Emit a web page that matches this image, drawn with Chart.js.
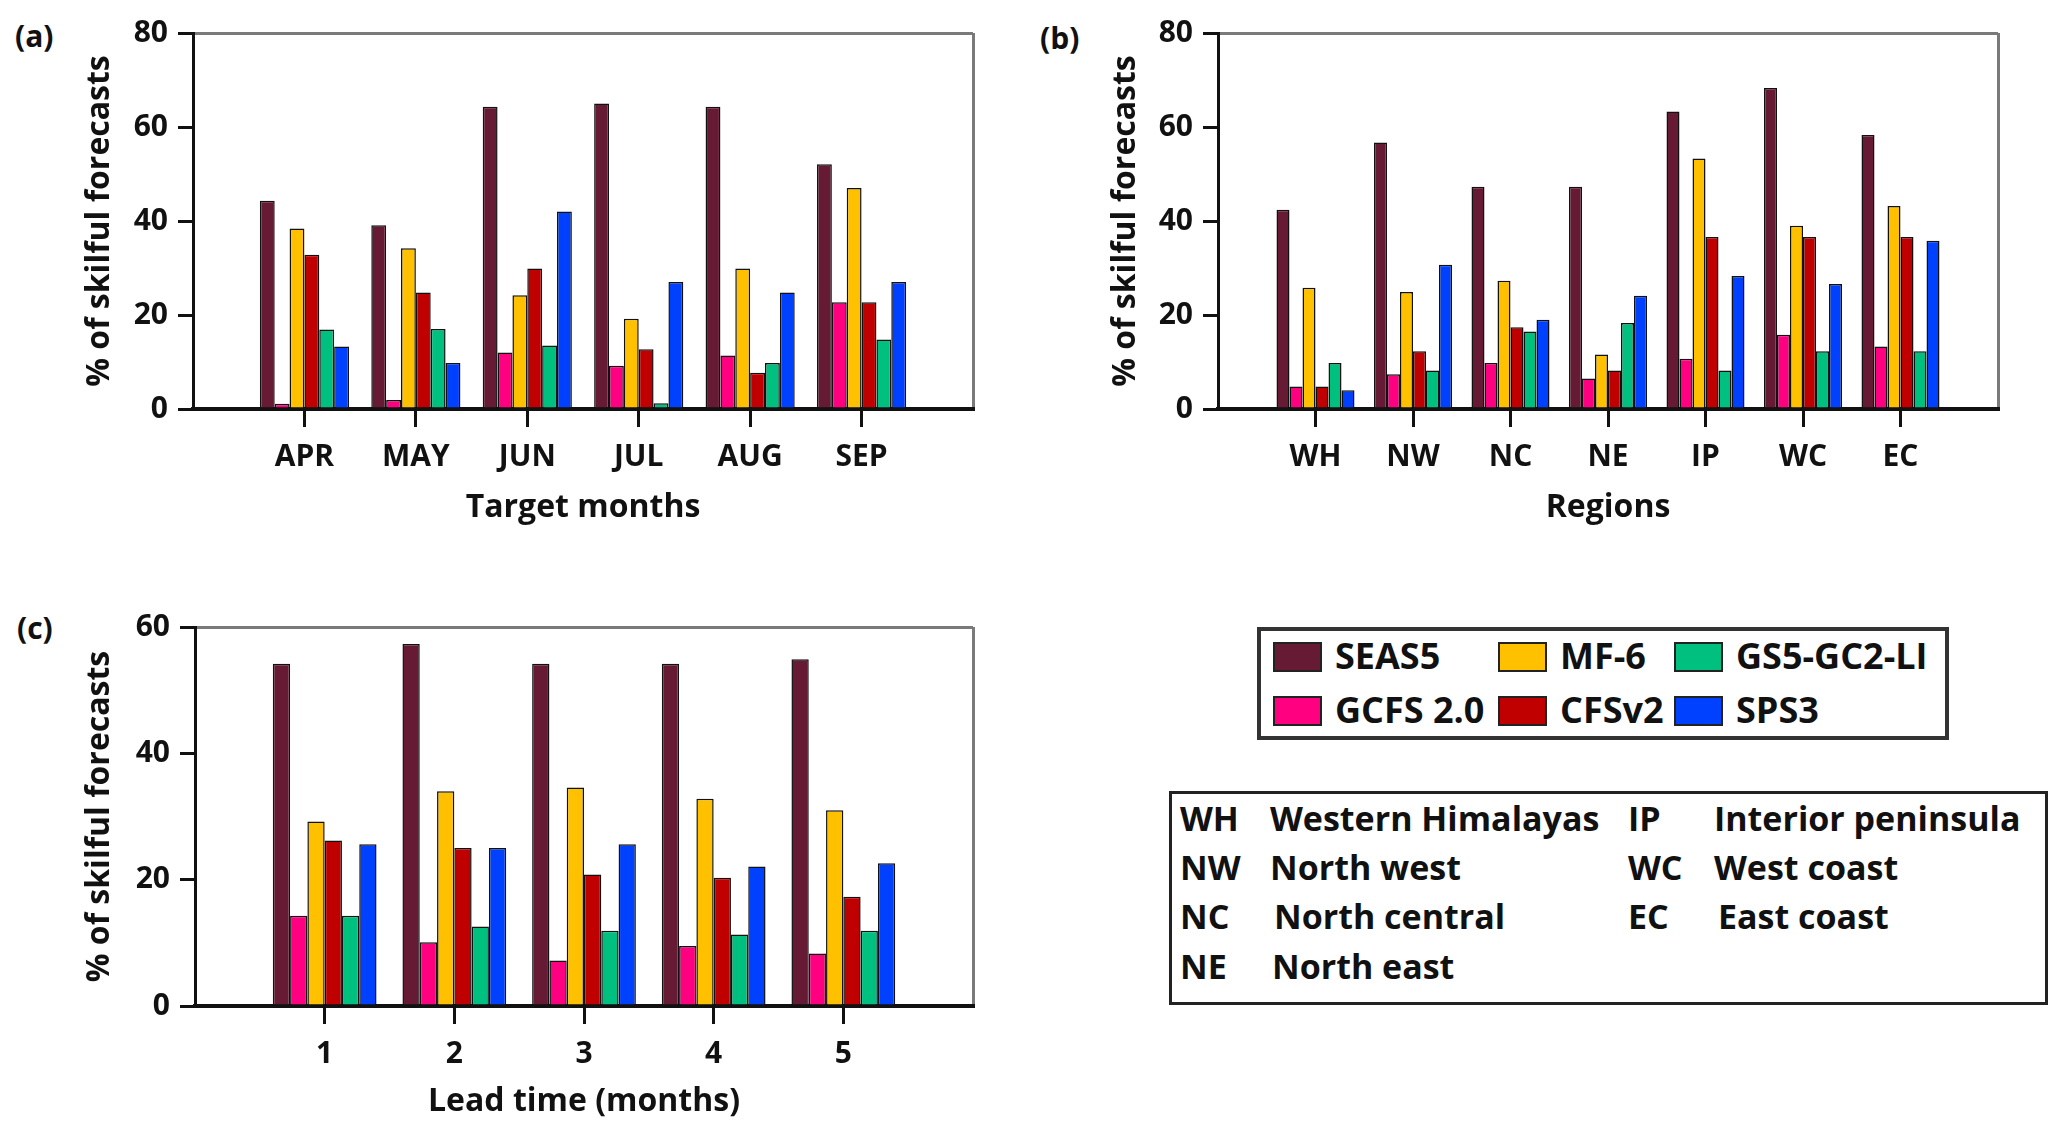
<!DOCTYPE html>
<html>
<head>
<meta charset="utf-8">
<script src="https://cdn.jsdelivr.net/npm/chart.js@4.4.1/dist/chart.umd.min.js"></script>
<style>
  body { margin: 0; background: #fff; width: 2067px; height: 1135px; overflow: hidden; position: relative; font-family: "Open Sans", sans-serif; color: #111; }
  canvas { position: absolute; }
  .panel { position: absolute; font-weight: 700; font-size: 30px; line-height: 40px; }
  .box { position: absolute; box-sizing: border-box; }
  .txt { position: absolute; font-weight: 700; white-space: nowrap; }
  .sw { position: absolute; box-sizing: border-box; border: 2px solid #222; }
</style>
</head>
<body>
<div class="panel" style="left:15px;top:16px">(a)</div>
<div class="panel" style="left:1040px;top:18px">(b)</div>
<div class="panel" style="left:17px;top:608px">(c)</div>

<canvas id="chartA" width="1033" height="560" style="left:0;top:0"></canvas>
<canvas id="chartB" width="1034" height="560" style="left:1033px;top:0"></canvas>
<canvas id="chartC" width="1033" height="575" style="left:0;top:560px"></canvas>

<div id="legend1" class="box" style="left:1257px;top:627px;width:692px;height:113px;border:4px solid #333"></div>
<div id="legend2" class="box" style="left:1169px;top:791px;width:879px;height:214px;border:3px solid #222"></div>

<script>
// models and colours
var models = ["SEAS5", "GCFS 2.0", "MF-6", "CFSv2", "GS5-GC2-LI", "SPS3"];
var colors = ["#661a33", "#ff0080", "#ffc000", "#c00000", "#00c080", "#0040ff"];

// (a) target months
var months = ["APR", "MAY", "JUN", "JUL", "AUG", "SEP"];
var monSEAS5 = [44.3, 39.1, 64.3, 65.0, 64.3, 52.1];
var monGCFS = [1.1, 1.9, 12.0, 9.2, 11.4, 22.7];
var monMF6 = [38.4, 34.2, 24.2, 19.2, 29.9, 47.0];
var monCFS = [32.8, 24.8, 29.9, 12.7, 7.7, 22.7];
var monGS5 = [16.9, 17.0, 13.5, 1.2, 9.8, 14.8];
var monSPS3 = [13.3, 9.8, 42.0, 27.0, 24.8, 27.0];

// (b) regions
var regions = ["WH", "NW", "NC", "NE", "IP", "WC", "EC"];
var regSEAS5 = [42.4, 56.7, 47.3, 47.3, 63.3, 68.3, 58.3];
var regGCFS = [4.8, 7.4, 9.8, 6.5, 10.7, 15.8, 13.3];
var regMF6 = [25.8, 24.9, 27.3, 11.6, 53.3, 39.0, 43.2];
var regCFS = [4.8, 12.3, 17.4, 8.2, 36.6, 36.6, 36.6];
var regGS5 = [9.8, 8.2, 16.5, 18.3, 8.2, 12.3, 12.3];
var regSPS3 = [4.0, 30.7, 19.0, 24.1, 28.3, 26.6, 35.8];

// (c) lead time
var leads = ["1", "2", "3", "4", "5"];
var leadSEAS5 = [54.2, 57.3, 54.2, 54.2, 54.9];
var leadGCFS = [14.3, 10.1, 7.2, 9.5, 8.3];
var leadMF6 = [29.2, 34.0, 34.6, 32.8, 31.0];
var leadCFS = [26.2, 25.0, 20.8, 20.3, 17.3];
var leadGS5 = [14.3, 12.6, 11.9, 11.3, 11.9];
var leadSPS3 = [25.6, 25.0, 25.6, 22.1, 22.6];

// region key
var regionCodes = ["WH", "NW", "NC", "NE", "IP", "WC", "EC"];
var regionNames = ["Western Himalayas", "North west", "North central", "North east",
  "Interior peninsula", "West coast", "East coast"];

var yTicks = { a: [0, 80], b: [0, 80], c: [0, 60] };
var yTitle = "% of skilful forecasts";

function pad(arr, fill) {
  return [fill].concat(arr).concat([fill]);
}

function makeChart(id, cats, series, cfg) {
  var n = cats.length + 2;
  var ds = [];
  for (var i = 0; i < series.length; i++) {
    ds.push({
      label: models[i],
      data: pad(series[i], null),
      backgroundColor: colors[i],
      borderColor: "#111",
      borderWidth: 1.5,
      categoryPercentage: 0.8,
      barPercentage: 1.0,
    });
  }
  return new Chart(document.getElementById(id), {
    type: "bar",
    data: { labels: pad(cats, ""), datasets: ds },
    options: {
      responsive: false,
      animation: false,
      layout: { padding: { top: cfg.top, right: cfg.right, left: 0, bottom: 0 } },
      plugins: { legend: { display: false }, tooltip: { enabled: false } },
      scales: {
        x: {
          type: "category",
          offset: false,
          grid: {
            offset: false,
            color: function (c) { return c.index === n - 1 ? "#7a7a7a" : "rgba(0,0,0,0)"; },
            lineWidth: 3,
            tickColor: function (c) { return (c.index === 0 || c.index === n - 1) ? "rgba(0,0,0,0)" : "#111"; },
            tickLength: 18,
            tickWidth: 3,
          },
          border: { color: "#111", width: 4 },
          ticks: {
            autoSkip: false,
            maxRotation: 0,
            padding: 12,
            color: "#111",
            font: { family: "Open Sans", weight: "bold", size: 30 },
          },
          title: {
            display: true,
            text: cfg.xTitle,
            color: "#111",
            font: { family: "Open Sans", weight: "bold", size: 32 },
            padding: { top: 0, bottom: cfg.xTitlePad },
          },
          afterFit: function (s) { s.height = cfg.xHeight; },
        },
        y: {
          min: cfg.yRange[0],
          max: cfg.yRange[1],
          ticks: {
            stepSize: 20,
            padding: 10,
            color: "#111",
            font: { family: "Open Sans", weight: "bold", size: 30 },
          },
          grid: {
            color: function (c) { return c.tick && c.tick.value === cfg.yRange[1] ? "#7a7a7a" : "rgba(0,0,0,0)"; },
            lineWidth: 3,
            tickColor: "#111",
            tickLength: 15,
            tickWidth: 3,
          },
          border: { color: "#111", width: 3 },
          title: {
            display: true,
            text: yTitle,
            color: "#111",
            font: { family: "Open Sans", weight: "bold", size: 32 },
            padding: { top: cfg.yTitlePad, bottom: 0 },
          },
          afterFit: function (s) { s.width = cfg.yWidth; },
        },
      },
    },
  });
}

makeChart("chartA", months, [monSEAS5, monGCFS, monMF6, monCFS, monGS5, monSPS3], {
  top: 33, right: 60, yWidth: 193, xHeight: 151, xTitle: "Target months",
  xTitlePad: 33, yTitlePad: 81, yRange: yTicks.a,
});
makeChart("chartB", regions, [regSEAS5, regGCFS, regMF6, regCFS, regGS5, regSPS3], {
  top: 33, right: 69, yWidth: 185, xHeight: 151, xTitle: "Regions",
  xTitlePad: 33, yTitlePad: 74, yRange: yTicks.b,
});
makeChart("chartC", leads, [leadSEAS5, leadGCFS, leadMF6, leadCFS, leadGS5, leadSPS3], {
  top: 67, right: 60, yWidth: 195, xHeight: 129, xTitle: "Lead time (months)",
  xTitlePad: 14, yTitlePad: 81, yRange: yTicks.c,
});

// model legend: 3 columns x 2 rows, filled column-wise
var leg1 = document.getElementById("legend1");
var colX = [12, 237, 413];
var rowY = [11, 65];
for (var i = 0; i < models.length; i++) {
  var col = Math.floor(i / 2), row = i % 2;
  var sw = document.createElement("div");
  sw.className = "sw";
  sw.style.cssText = "left:" + colX[col] + "px;top:" + rowY[row] + "px;width:49px;height:30px;background:" + colors[i];
  leg1.appendChild(sw);
  var t = document.createElement("div");
  t.className = "txt";
  t.textContent = models[i];
  t.style.cssText = "left:" + (colX[col] + 62) + "px;top:" + (rowY[row] - 10) + "px;font-size:36px;line-height:48px";
  leg1.appendChild(t);
}

// region key: two columns
var leg2 = document.getElementById("legend2");
var keyRows = [0, 49, 98, 148];
var nameShift = [0, 0, 4, 2, 0, 0, 4];
for (var j = 0; j < regionCodes.length; j++) {
  var c2 = j < 4 ? 0 : 1;
  var r2 = j < 4 ? j : j - 4;
  var codeX = c2 === 0 ? 8 : 456;
  var nameX = (c2 === 0 ? 98 : 542) + nameShift[j];
  var a = document.createElement("div");
  a.className = "txt";
  a.textContent = regionCodes[j];
  a.style.cssText = "left:" + codeX + "px;top:" + keyRows[r2] + "px;font-size:34px;line-height:48px";
  leg2.appendChild(a);
  var b = document.createElement("div");
  b.className = "txt";
  b.textContent = regionNames[j];
  b.style.cssText = "left:" + nameX + "px;top:" + keyRows[r2] + "px;font-size:34px;line-height:48px";
  leg2.appendChild(b);
}
</script>
</body>
</html>
